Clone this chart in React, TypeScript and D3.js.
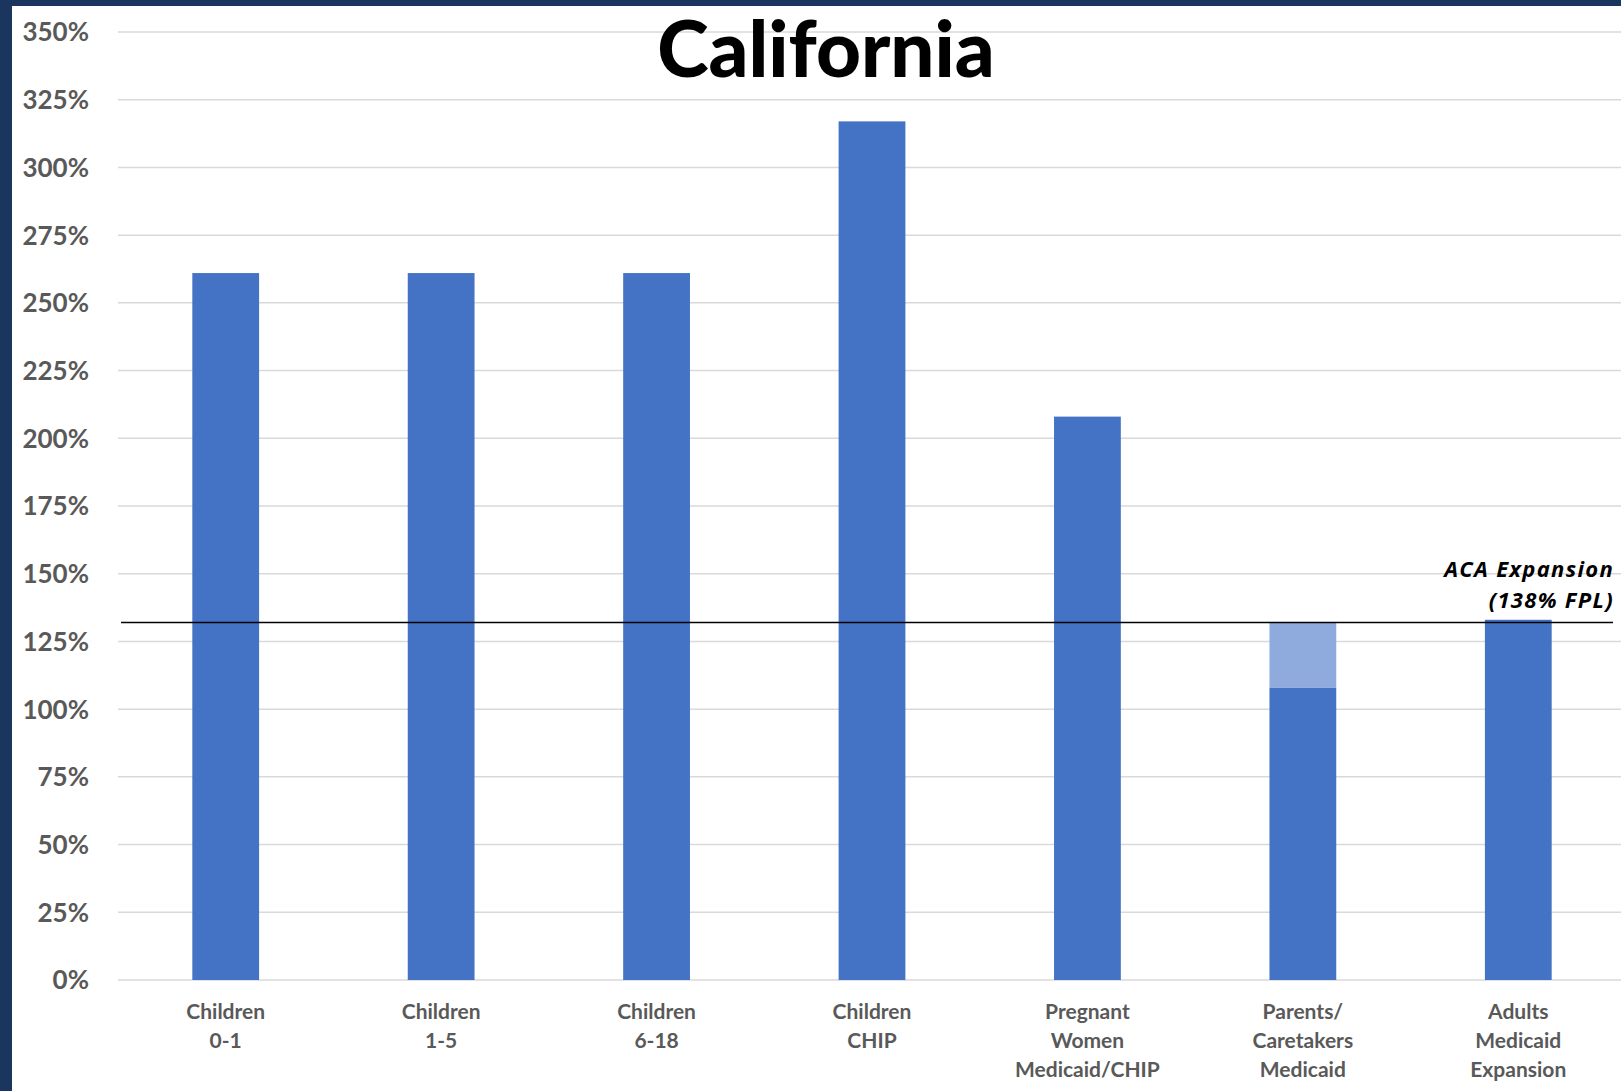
import React, { useEffect, useRef } from 'react';
import * as d3 from 'd3';

// category labels (one entry per line)
const categories = [
  ['Children', '0-1'],
  ['Children', '1-5'],
  ['Children', '6-18'],
  ['Children', 'CHIP'],
  ['Pregnant', 'Women', 'Medicaid/CHIP'],
  ['Parents/', 'Caretakers', 'Medicaid'],
  ['Adults', 'Medicaid', 'Expansion'],
];

// eligibility as % of FPL
const baseValues = [261, 261, 261, 317, 208, 108, 133];
// lighter top segment (parents up to the ACA level)
const topValues = [0, 0, 0, 0, 0, 24, 0];

const yTicks = [0, 25, 50, 75, 100, 125, 150, 175, 200, 225, 250, 275, 300, 325, 350];
const acaLevel = 132;
const acaLabel = ['ACA Expansion', '(138% FPL)'];

const W = 1621;
const H = 1091;

const App: React.FC = () => {
  const svgRef = useRef<SVGSVGElement | null>(null);

  useEffect(() => {
    if (!svgRef.current) return;
    document.body.style.margin = '0';

    const svg = d3.select(svgRef.current);
    svg.selectAll('*').remove();

    // frame
    svg.append('rect').attr('width', W).attr('height', H).attr('fill', '#1a365f');
    svg.append('rect').attr('x', 12).attr('y', 6).attr('width', W - 12).attr('height', H - 6).attr('fill', '#ffffff');

    const x = d3.scaleBand<number>()
      .domain(d3.range(categories.length))
      .range([118, 1626])
      .paddingInner(0.69)
      .paddingOuter(0.345);

    const y = d3.scaleLinear().domain([0, 350]).range([980, 32]);

    // gridlines
    svg.append('g')
      .selectAll('line')
      .data(yTicks)
      .join('line')
      .attr('x1', 118)
      .attr('x2', W)
      .attr('y1', d => y(d))
      .attr('y2', d => y(d))
      .attr('stroke', '#d9d9d9')
      .attr('stroke-width', 1.5);

    // y tick labels
    svg.append('g')
      .selectAll('text')
      .data(yTicks)
      .join('text')
      .attr('x', 89)
      .attr('y', d => y(d))
      .attr('dy', '0.36em')
      .attr('text-anchor', 'end')
      .attr('font-family', 'Lato, sans-serif')
      .attr('font-weight', 700)
      .attr('font-size', 26)
      .attr('fill', '#595959')
      .text(d => `${d}%`);

    // title
    svg.append('text')
      .attr('x', 826)
      .attr('y', 77)
      .attr('text-anchor', 'middle')
      .attr('font-family', 'Lato, sans-serif')
      .attr('font-weight', 900)
      .attr('font-size', 78)
      .attr('fill', '#000000')
      .text('California');

    // bars
    svg.append('g')
      .selectAll('rect')
      .data(baseValues)
      .join('rect')
      .attr('x', (_, i) => x(i)!)
      .attr('width', x.bandwidth())
      .attr('y', d => y(d))
      .attr('height', d => y(0) - y(d))
      .attr('fill', '#4472c4');

    svg.append('g')
      .selectAll('rect')
      .data(topValues)
      .join('rect')
      .attr('x', (_, i) => x(i)!)
      .attr('width', x.bandwidth())
      .attr('y', (d, i) => y(baseValues[i] + d))
      .attr('height', (d, i) => y(baseValues[i]) - y(baseValues[i] + d))
      .attr('fill', '#8faadc');

    // ACA reference line
    svg.append('line')
      .attr('x1', 121)
      .attr('x2', 1613)
      .attr('y1', y(acaLevel))
      .attr('y2', y(acaLevel))
      .attr('stroke', '#000000')
      .attr('stroke-width', 1.5);

    svg.append('g')
      .selectAll('text')
      .data(acaLabel)
      .join('text')
      .attr('x', 1614)
      .attr('y', (_, i) => 577 + i * 31)
      .attr('text-anchor', 'end')
      .attr('font-family', '"Open Sans", sans-serif')
      .attr('font-weight', 700)
      .attr('font-style', 'italic')
      .attr('font-size', 22)
      .attr('letter-spacing', 1.3)
      .attr('fill', '#000000')
      .text(d => d);

    // category labels
    const cat = svg.append('g')
      .selectAll('text')
      .data(categories)
      .join('text')
      .attr('x', (_, i) => x(i)! + x.bandwidth() / 2)
      .attr('y', 1019)
      .attr('text-anchor', 'middle')
      .attr('font-family', 'Lato, sans-serif')
      .attr('font-weight', 700)
      .attr('font-size', 21)
      .attr('fill', '#595959');

    cat.selectAll('tspan')
      .data(d => d)
      .join('tspan')
      .attr('x', function () {
        return (this as SVGTSpanElement).parentElement!.getAttribute('x');
      })
      .attr('dy', (_, i) => (i === 0 ? 0 : 29))
      .text(d => d);
  }, []);

  return (
    <svg
      ref={svgRef}
      width={W}
      height={H}
      style={{ display: 'block', position: 'absolute', left: 0, top: 0 }}
    />
  );
};

export default App;
